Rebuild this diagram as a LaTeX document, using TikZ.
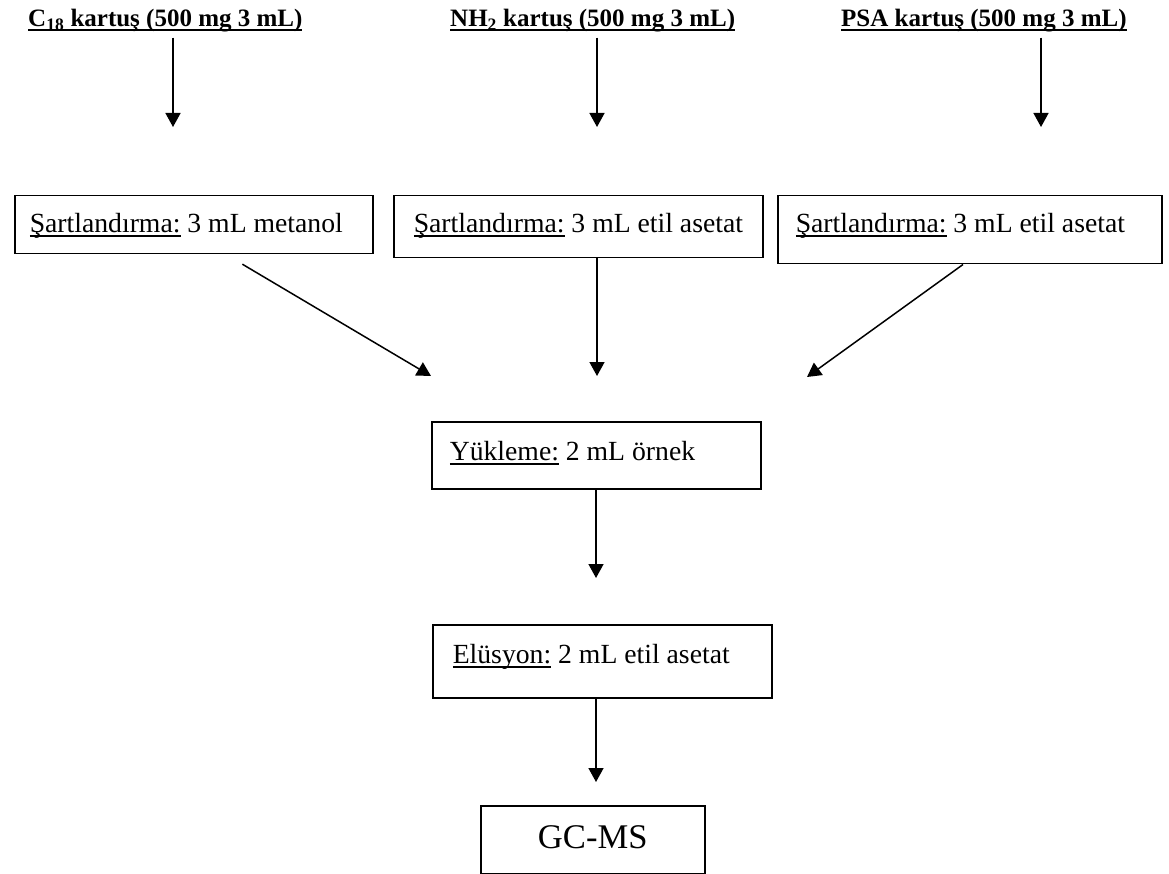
\documentclass[tikz,border=0pt]{standalone}
\usepackage{fontspec}
\setmainfont{Liberation Serif}
\usetikzlibrary{arrows.meta}

% underlined text with a rule at a fixed depth
\newcommand\ulword[1]{\setbox0\hbox{#1}\rlap{\rule[-0.15em]{\wd0}{0.055em}}\box0\relax}
\newcommand\ultitle[1]{\setbox0\hbox{#1}\rlap{\rule[-0.17em]{\wd0}{0.1em}}\box0\relax}
% plain word spacing and a left indent inside the step boxes
\newcommand\lead[1]{\spaceskip=0.25em\relax\xspaceskip=0.25em\relax\hspace*{#1}}

\begin{document}
\begin{tikzpicture}[x=1pt, y=-1pt,
  title/.style={anchor=base west, inner sep=0pt, font=\fontsize{25}{30}\selectfont\bfseries},
  stepbox/.style={draw, line width=1.5pt, anchor=north west, inner sep=0pt, align=left,
    font=\fontsize{27.7}{33}\selectfont},
  arr/.style={line width=1.5pt, -{Triangle[length=14pt, width=15pt]}}
]
\useasboundingbox (0,0) rectangle (1169,874);

% cartridge headings
\node[title] (t1) at (28,27) {\ultitle{C\textsubscript{18} kartuş (500 mg 3 mL)}};
\node[title] (t2) at (450,27) {\ultitle{NH\textsubscript{2} kartuş (500 mg 3 mL)}};
\node[title] (t3) at (841,27) {\ultitle{PSA kartuş (500 mg 3 mL)}};

% arrow ends below the headings
\coordinate (e1) at (173,127);
\coordinate (e2) at (597,127);
\coordinate (e3) at (1041,127);
\draw[arr, shorten <=5pt] (t1.south -| e1) -- (e1);
\draw[arr, shorten <=5pt] (t2.south -| e2) -- (e2);
\draw[arr, shorten <=5pt] (t3.south -| e3) -- (e3);

% conditioning boxes
\node[stepbox, text width=358pt, text height=37pt, text depth=21pt] (b1) at (14,195)
  {\lead{15pt}\ulword{Şartlandırma:} 3 mL metanol};
\node[stepbox, text width=369pt, text height=37pt, text depth=25pt] (b2) at (393,195)
  {\lead{20pt}\ulword{Şartlandırma:} 3 mL etil asetat};
\node[stepbox, text width=384pt, text height=37pt, text depth=31pt] (b3) at (777,195)
  {\lead{18pt}\ulword{Şartlandırma:} 3 mL etil asetat};

% arrows towards the loading step
\coordinate (m1) at (431,376);
\coordinate (m2) at (597,376);
\coordinate (m3) at (807,377);
\draw[arr, shorten <=19pt] (b1.south -| 226,0) -- (m1);
\draw[arr] (b2.south -| m2) -- (m2);
\draw[arr] (b3.south -| 963,0) -- (m3);

% loading, elution and detection
\node[stepbox, text width=329pt, text height=39pt, text depth=28pt] (b4) at (431,421)
  {\lead{18pt}\ulword{Yükleme:} 2 mL örnek};
\coordinate (e4) at (596,578);
\draw[arr] (b4.south -| e4) -- (e4);

\node[stepbox, text width=339pt, text height=39pt, text depth=34pt] (b5) at (432,624)
  {\lead{20pt}\ulword{Elüsyon:} 2 mL etil asetat};
\coordinate (e5) at (596,782);
\draw[arr] (b5.south -| e5) -- (e5);

\node[stepbox, align=center, text width=224pt, text height=43pt, text depth=25pt,
  font=\fontsize{34.6}{40}\selectfont] (b6) at (480,805) {GC-MS};
\end{tikzpicture}
\end{document}
